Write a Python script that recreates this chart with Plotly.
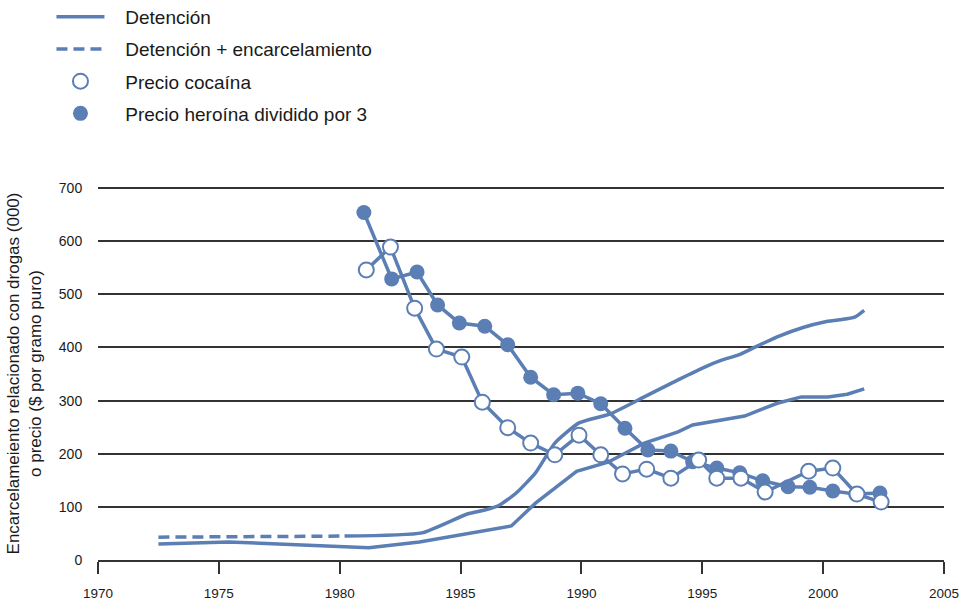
import plotly.graph_objects as go

BLUE = "#5b7fb4"
FONT = "Liberation Sans, Arial, Helvetica, sans-serif"
NB = "\u00a0\u00a0\u00a0"

# Detención (solid, lower line)
det_years = [1972.5, 1975.4, 1981.2, 1983.3, 1987.1, 1988.1, 1989.8, 1991.1, 1992.6,
             1994.0, 1994.6, 1996.75, 1998.1, 1999.1, 2000.2, 2001.0, 2001.7]
det_vals = [30, 34, 23, 34, 64, 107, 167, 184, 220, 241, 254, 271, 295, 307, 307, 312, 322]

# Detención + encarcelamiento: dashed part (before 1980) and solid part
detenc_dash_years = [1972.5, 1980.2]
detenc_dash_vals = [43, 45]
detenc_years = [1980.2, 1983.4, 1985.3, 1986.0, 1986.6, 1987.3, 1988.1, 1988.9, 1989.9,
                1991.2, 1992.6, 1994.0, 1995.1, 1995.8, 1996.5, 1997.2, 1998.1, 1999.2,
                2000.05, 2000.7, 2001.3, 2001.7]
detenc_vals = [45, 51, 87, 94, 103, 126, 164, 220, 258, 275, 307, 339, 363, 376, 386, 401,
               420, 438, 448, 452, 457, 470]

# Precio cocaína (open markers)
coc_years = [1981.1, 1982.1, 1983.1, 1984.0, 1985.05, 1985.9, 1986.95, 1987.9, 1988.9, 1989.9,
             1990.8, 1991.7, 1992.7, 1993.7, 1994.85, 1995.6, 1996.6, 1997.6, 1999.4, 2000.4,
             2001.4, 2002.4]
coc_vals = [546, 589, 474, 397, 382, 297, 249, 220, 198, 235, 198, 162, 171, 154, 188, 154,
            154, 128, 167, 173, 124, 109]

# Precio heroína dividido por 3 (filled markers)
her_years = [1981.0, 1982.15, 1983.2, 1984.05, 1984.95, 1986.0, 1986.95, 1987.9, 1988.85,
             1989.85, 1990.8, 1991.8, 1992.75, 1993.7, 1994.6, 1995.6, 1996.55, 1997.5, 1998.55,
             1999.45, 2000.4, 2001.35, 2002.35]
her_vals = [654, 529, 542, 480, 446, 440, 405, 344, 311, 314, 294, 248, 207, 205, 185, 173,
            164, 149, 138, 137, 130, 124, 126]

x_ticks = [1970, 1975, 1980, 1985, 1990, 1995, 2000, 2005]
x_tick_labels = ["1970", "1975", "1980", "1985", "1990", "1995", "2000", "2005"]
y_ticks = [0, 100, 200, 300, 400, 500, 600, 700]

fig = go.Figure()

fig.add_trace(go.Scatter(x=det_years, y=det_vals, mode="lines", name=NB + "Detención",
                         line=dict(color=BLUE, width=3.5), legendgroup="g1", legendrank=1))
fig.add_trace(go.Scatter(x=detenc_dash_years, y=detenc_dash_vals, mode="lines",
                         name=NB + "Detención + encarcelamiento",
                         line=dict(color=BLUE, width=3.5, dash="11px,6px"),
                         legendgroup="g2", legendrank=2))
fig.add_trace(go.Scatter(x=detenc_years, y=detenc_vals, mode="lines", showlegend=False,
                         line=dict(color=BLUE, width=3.5, shape="spline", smoothing=0.5),
                         legendgroup="g2", legendrank=2))
fig.add_trace(go.Scatter(x=coc_years, y=coc_vals, mode="lines", showlegend=False,
                         line=dict(color=BLUE, width=3.5), legendgroup="g3", legendrank=3))
fig.add_trace(go.Scatter(x=her_years, y=her_vals, mode="lines", showlegend=False,
                         line=dict(color=BLUE, width=3.5), legendgroup="g4", legendrank=4))
fig.add_trace(go.Scatter(x=her_years, y=her_vals, mode="markers",
                         name=NB + "Precio heroína dividido por 3",
                         marker=dict(size=15, color=BLUE, line=dict(color=BLUE, width=0)),
                         legendgroup="g4", legendrank=4))
fig.add_trace(go.Scatter(x=coc_years, y=coc_vals, mode="markers",
                         name=NB + "Precio cocaína",
                         marker=dict(size=15, color="white", line=dict(color=BLUE, width=2)),
                         legendgroup="g3", legendrank=3))

fig.update_layout(
    width=959, height=603,
    margin=dict(l=98, r=15, t=187, b=43, autoexpand=False),
    paper_bgcolor="white", plot_bgcolor="white",
    font=dict(family=FONT, color="#1a1a1a", size=14),
    showlegend=True,
    legend=dict(x=-0.055, y=1.507, xanchor="left", yanchor="top",
                font=dict(size=19, family=FONT, color="#1a1a1a"),
                tracegroupgap=4.5, itemwidth=48, bgcolor="rgba(0,0,0,0)",
                itemsizing="trace", traceorder="grouped", groupclick="toggleitem"),
)
fig.update_xaxes(range=[1970, 2005], tickvals=x_ticks, ticktext=x_tick_labels, ticks="outside",
                 ticklen=12, tickwidth=1.5, tickcolor="#333", showline=True, linecolor="#333",
                 linewidth=1.5, showgrid=False, zeroline=False, automargin=False,
                 ticklabelstandoff=8, ticklabeloverflow="allow",
                 tickfont=dict(size=13.5, family=FONT))
fig.update_yaxes(range=[0, 702], tickvals=y_ticks, ticks="outside", ticklen=12,
                 tickcolor="rgba(0,0,0,0)", showgrid=True, gridcolor="#333", gridwidth=1.5,
                 zeroline=False, showline=False, automargin=False,
                 tickfont=dict(size=14, family=FONT),
                 title=dict(text="Encarcelameiento relacionado con drogas (000)<br>o precio ($ por gramo puro)",
                            font=dict(size=17, family=FONT), standoff=12))

fig.write_html("out.html", config={"displayModeBar": False},
               post_script="document.body.style.margin='0';document.body.style.overflow='hidden';")
